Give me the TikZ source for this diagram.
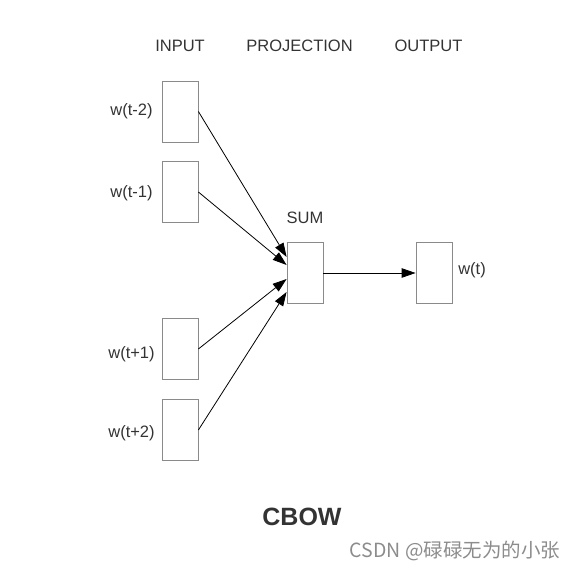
\documentclass[tikz,border=0pt]{standalone}
\usepackage{fontspec}
\setmainfont{Liberation Sans}
\newfontfamily\cjk{Noto Sans CJK SC}
\usetikzlibrary{arrows.meta}
\definecolor{txt}{HTML}{333333}
\definecolor{boxc}{HTML}{8A8A8A}
\begin{document}
\begin{tikzpicture}[x=1pt,y=-1pt,
  wbox/.style={draw=boxc,line width=0.8pt,minimum width=36pt,minimum height=61pt,inner sep=0pt},
  lbl/.style={text=txt,font=\fontsize{16.5}{19}\selectfont,inner sep=0pt},
  arr/.style={-{Triangle[length=14pt,width=9.5pt]},line width=0.8pt,black}]
\useasboundingbox (0,0) rectangle (576,569);
\node[lbl] (hin) at (180,45.5) {INPUT};
\node[lbl] (hproj) at (299.5,45.5) {PROJECTION};
\node[lbl] (hout) at (428.5,45.5) {OUTPUT};
\node[wbox] (a) at (180,111.5) {};
\node[wbox] (b) at (180,192) {};
\node[wbox] (c) at (180,349) {};
\node[wbox] (d) at (180,430) {};
\node[wbox] (s) at (305,273) {};
\node[wbox] (o) at (434,273) {};
\node[lbl] (la) at (131.5,111) {w(t-2)};
\node[lbl] (lb) at (131.5,193) {w(t-1)};
\node[lbl] (lc) at (131.5,354) {w(t+1)};
\node[lbl] (ld) at (131.5,433) {w(t+2)};
\node[lbl] (ls) at (305,218) {SUM};
\node[lbl] (lo) at (472,270) {w(t)};
\draw[arr] (a.east) -- ([yshift=16pt]s.west);
\draw[arr] (b.east) -- ([yshift=8pt]s.west);
\draw[arr] (c.east) -- ([yshift=-6pt]s.west);
\draw[arr] (d.east) -- ([yshift=-19pt]s.west);
\draw[arr] (s.east) -- (o.west);
\node[text=txt,font=\fontsize{25}{29}\selectfont\bfseries,inner sep=0pt] (title) at (302,517) {CBOW};
\node[text=black!45,font=\cjk\fontsize{19.5}{22}\selectfont,inner sep=0pt] (wm) at (455,551) {CSDN @碌碌无为的小张};
\end{tikzpicture}
\end{document}
